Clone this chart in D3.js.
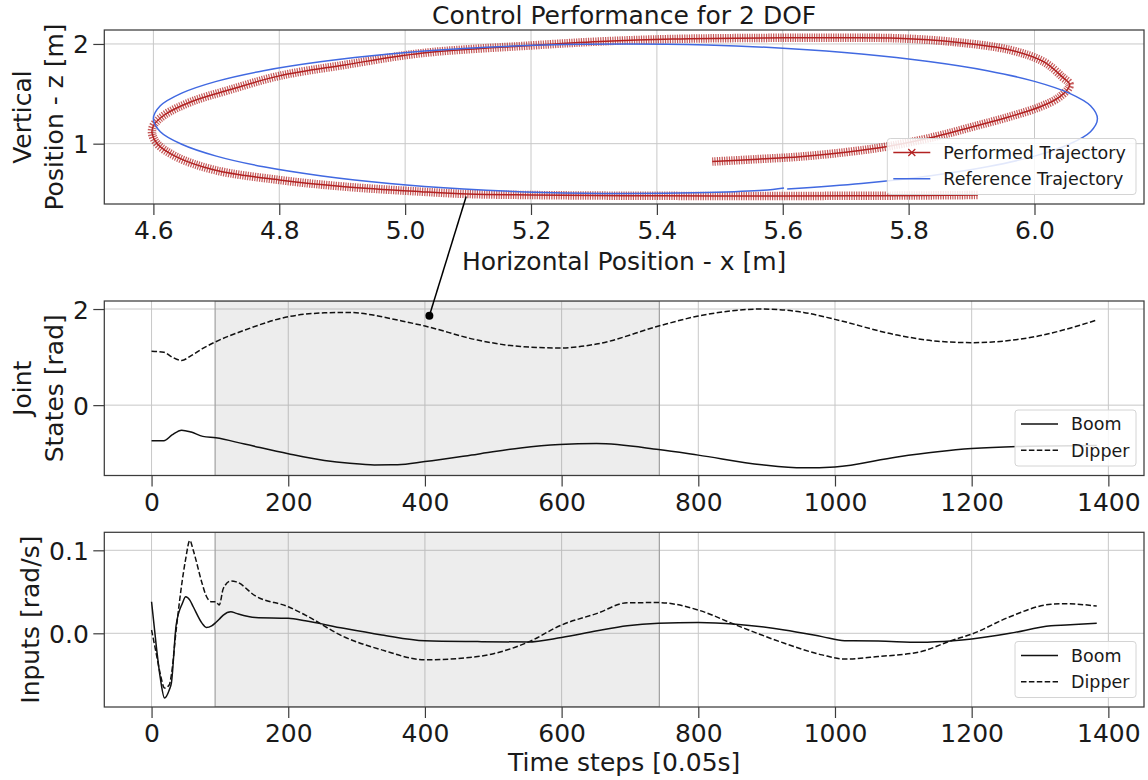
<!DOCTYPE html>
<html>
<head>
<meta charset="utf-8">
<script src="https://cdn.jsdelivr.net/npm/d3@7"></script>
<style>
  body { margin: 0; background: #fff; }
  text { font-family: "DejaVu Sans", sans-serif; fill: #1a1a1a; }
</style>
</head>
<body>
<svg id="chart" width="1148" height="780"></svg>
<script>
// ---------------- data ----------------
// Reference trajectory in the x-z plane [m]
const refX = [5.607, 5.725, 5.832, 5.925, 6.000, 6.055, 6.089, 6.100, 6.089, 6.055, 6.000, 5.925, 5.832, 5.725, 5.607, 5.480, 5.350, 5.220, 5.093, 4.975, 4.868, 4.775, 4.700, 4.645, 4.611, 4.600, 4.611, 4.645, 4.700, 4.775, 4.868, 4.975, 5.093, 5.220, 5.350, 5.480, 5.569, 5.602];
const refZ = [0.545, 0.600, 0.676, 0.768, 0.875, 0.994, 1.120, 1.250, 1.380, 1.507, 1.625, 1.732, 1.824, 1.900, 1.955, 1.989, 2.000, 1.989, 1.955, 1.900, 1.824, 1.732, 1.625, 1.507, 1.380, 1.250, 1.120, 0.994, 0.875, 0.768, 0.676, 0.600, 0.545, 0.511, 0.500, 0.511, 0.533, 0.556];

// Performed trajectory in the x-z plane [m]
const perfX = [5.488, 5.560, 5.627, 5.700, 5.764, 5.842, 5.902, 5.960, 6.009, 6.040, 6.056, 6.044, 6.015, 5.961, 5.872, 5.782, 5.700, 5.604, 5.425, 5.310, 5.200, 5.025, 4.904, 4.800, 4.721, 4.660, 4.618, 4.600, 4.598, 4.606, 4.636, 4.697, 4.800, 4.904, 5.025, 5.100, 5.200, 5.350, 5.500, 5.604, 5.750, 5.910];
const perfZ = [0.820, 0.845, 0.870, 0.915, 0.970, 1.070, 1.170, 1.270, 1.370, 1.470, 1.590, 1.670, 1.820, 1.940, 2.020, 2.057, 2.062, 2.062, 2.050, 2.025, 1.985, 1.907, 1.790, 1.680, 1.540, 1.420, 1.290, 1.180, 1.100, 1.000, 0.870, 0.736, 0.636, 0.569, 0.519, 0.495, 0.485, 0.478, 0.476, 0.476, 0.478, 0.485];

// Joint states [rad] over time steps
const stateSteps  = [0, 18, 30, 44, 58, 75, 94, 136, 200, 253, 290, 326, 360, 400, 477, 540, 597, 651, 742, 800, 893, 954, 1000, 1091, 1150, 1200, 1283, 1383];
const boomState   = [-0.74, -0.74, -0.62, -0.52, -0.56, -0.65, -0.68, -0.81, -1.01, -1.15, -1.21, -1.243, -1.24, -1.174, -1.02, -0.89, -0.82, -0.80, -0.924, -1.04, -1.24, -1.305, -1.285, -1.077, -0.97, -0.903, -0.855, -0.84];
const dipperState = [1.12, 1.10, 1.00, 0.93, 1.03, 1.18, 1.32, 1.56, 1.84, 1.92, 1.93, 1.87, 1.77, 1.646, 1.354, 1.22, 1.19, 1.27, 1.646, 1.854, 2.00, 1.93, 1.785, 1.458, 1.33, 1.30, 1.40, 1.77];

// Control inputs [rad/s] over time steps
const inputSteps  = [0, 7, 13, 19, 26, 29, 36, 45, 50, 56, 61, 74, 80, 88, 94, 99, 105, 116, 124, 152, 200, 225, 281, 337, 400, 477, 550, 600, 652, 696, 742, 800, 855, 926, 981, 1014, 1063, 1124, 1173, 1200, 1256, 1316, 1338, 1383];
const boomInput   = [0.038, -0.016, -0.055, -0.078, -0.068, -0.060, 0.010, 0.036, 0.044, 0.040, 0.032, 0.012, 0.007, 0.009, 0.013, 0.017, 0.022, 0.026, 0.024, 0.019, 0.018, 0.015, 0.006, -0.002, -0.009, -0.010, -0.0105, -0.005, 0.003, 0.009, 0.012, 0.013, 0.011, 0.004, -0.004, -0.009, -0.0093, -0.0108, -0.009, -0.0068, 0.000, 0.009, 0.010, 0.012];
const dipperInput = [0.004, -0.025, -0.050, -0.066, -0.062, -0.050, 0.004, 0.064, 0.090, 0.112, 0.100, 0.060, 0.045, 0.038, 0.038, 0.034, 0.054, 0.063, 0.062, 0.045, 0.032, 0.022, -0.004, -0.020, -0.032, -0.028, -0.011, 0.010, 0.024, 0.0368, 0.037, 0.028, 0.010, -0.012, -0.026, -0.031, -0.028, -0.0224, -0.008, -0.001, 0.020, 0.035, 0.0356, 0.0328];

// Highlighted time window and the linked sample
const spanSteps = [93, 743];
const linkPos = [5.097, 0.47];    // (x, z) on the trajectory
const linkState = [406.5, 1.86];  // (step, rad) in the joint-state panel

// Tick values
const posXTicks = [4.6, 4.8, 5.0, 5.2, 5.4, 5.6, 5.8, 6.0];
const posZTicks = [1, 2];
const stepTicks = [0, 200, 400, 600, 800, 1000, 1200, 1400];
const stateTicks = [0, 2];
const inputTicks = [0.0, 0.1];

// ---------------- layout ----------------
const svg = d3.select("#chart");
const L = 104.3, R = 1144;
const P1 = { top: 30, bottom: 204 };
const P2 = { top: 301, bottom: 475.5 };
const P3 = { top: 532.3, bottom: 707 };
const FS = 25;
const gridColor = "#c8c8c8";
const spineColor = "#3c3c3c";
const lineColor = "#111";
const red = "#b22222";
const blue = "#4169e1";

svg.append("rect").attr("width", 1148).attr("height", 780).attr("fill", "#fff");

const xPos = d3.scaleLinear().domain([4.522, 6.174]).range([L, R]);
const zPos = d3.scaleLinear().domain([0.395, 2.14]).range([P1.bottom, P1.top]);
const xStep2 = d3.scaleLinear().domain([-69.15, 1452.15]).range([L, R]);
const yState = d3.scaleLinear().domain([-1.464, 2.167]).range([P2.bottom, P2.top]);
const xStep3 = d3.scaleLinear().domain([-69.15, 1452.15]).range([L, R]);
const yInput = d3.scaleLinear().domain([-0.0888, 0.1217]).range([P3.bottom, P3.top]);

function panel(P, xs, ys, xt, yt, yfmt, xfmt, id) {
  const g = svg.append("g");
  svg.append("clipPath").attr("id", id)
    .append("rect").attr("x", L).attr("y", P.top).attr("width", R - L).attr("height", P.bottom - P.top);
  const grid = g.append("g");
  grid.selectAll(".gx").data(xt).join("line")
    .attr("x1", d => xs(d)).attr("x2", d => xs(d))
    .attr("y1", P.top).attr("y2", P.bottom)
    .attr("stroke", gridColor).attr("stroke-width", 1);
  grid.selectAll(".gy").data(yt).join("line")
    .attr("x1", L).attr("x2", R)
    .attr("y1", d => ys(d)).attr("y2", d => ys(d))
    .attr("stroke", gridColor).attr("stroke-width", 1);

  const ax = g.append("g").attr("transform", `translate(0,${P.bottom})`)
    .call(d3.axisBottom(xs).tickValues(xt).tickFormat(xfmt).tickSize(11).tickPadding(6.3));
  const ay = g.append("g").attr("transform", `translate(${L},0)`)
    .call(d3.axisLeft(ys).tickValues(yt).tickFormat(yfmt).tickSize(11).tickPadding(4.5));
  [ax, ay].forEach(a => {
    a.select(".domain").remove();
    a.selectAll("line").attr("stroke", spineColor).attr("stroke-width", 1.2);
    a.selectAll("text").attr("font-size", FS).attr("fill", "#1a1a1a")
      .style("font-family", '"DejaVu Sans", sans-serif');
  });
  ay.selectAll("text").attr("dy", "0.36em");
  const data = svg.append("g").attr("clip-path", `url(#${id})`);
  return { g, data };
}

function frame(P) {
  svg.append("rect").attr("x", L).attr("y", P.top).attr("width", R - L).attr("height", P.bottom - P.top)
    .attr("fill", "none").attr("stroke", spineColor).attr("stroke-width", 1.25);
}

// ---------------- panel 1: x-z trajectory ----------------
const p1 = panel(P1, xPos, zPos, posXTicks, posZTicks, d3.format("d"), d3.format(".1f"), "clip1");
const trajLine = d3.line().x(d => xPos(d[0])).y(d => zPos(d[1])).curve(d3.curveCatmullRom.alpha(0.5));
const perf = perfX.map((x, i) => [x, perfZ[i]]);
const ref = refX.map((x, i) => [x, refZ[i]]);

// dense cross markers along the performed path
p1.data.append("path").attr("d", trajLine(perf)).attr("fill", "none")
  .attr("stroke", red).attr("stroke-opacity", 0.75).attr("stroke-width", 8.5)
  .attr("stroke-dasharray", "1.2 1.2");
p1.data.append("path").attr("d", trajLine(perf)).attr("fill", "none")
  .attr("stroke", red).attr("stroke-width", 1.5);
p1.data.append("path").attr("d", trajLine(ref)).attr("fill", "none")
  .attr("stroke", blue).attr("stroke-width", 1.5);
frame(P1);

// ---------------- panel 2: joint states ----------------
const p2 = panel(P2, xStep2, yState, stepTicks, stateTicks, d3.format("d"), d3.format("d"), "clip2");
p2.data.insert("rect", ":first-child")
  .attr("x", xStep2(spanSteps[0])).attr("y", P2.top)
  .attr("width", xStep2(spanSteps[1]) - xStep2(spanSteps[0])).attr("height", P2.bottom - P2.top)
  .attr("fill", "#808080").attr("fill-opacity", 0.14)
  .attr("stroke", "#a0a0a0").attr("stroke-width", 1.2);
const sLine = d3.line().x(d => xStep2(d[0])).y(d => yState(d[1])).curve(d3.curveMonotoneX);
p2.data.append("path").attr("d", sLine(stateSteps.map((t, i) => [t, boomState[i]])))
  .attr("fill", "none").attr("stroke", lineColor).attr("stroke-width", 1.5);
p2.data.append("path").attr("d", sLine(stateSteps.map((t, i) => [t, dipperState[i]])))
  .attr("fill", "none").attr("stroke", lineColor).attr("stroke-width", 1.5)
  .attr("stroke-dasharray", "5.5 2.4");
frame(P2);

// ---------------- panel 3: inputs ----------------
const p3 = panel(P3, xStep3, yInput, stepTicks, inputTicks, d3.format(".1f"), d3.format("d"), "clip3");
p3.data.insert("rect", ":first-child")
  .attr("x", xStep3(spanSteps[0])).attr("y", P3.top)
  .attr("width", xStep3(spanSteps[1]) - xStep3(spanSteps[0])).attr("height", P3.bottom - P3.top)
  .attr("fill", "#808080").attr("fill-opacity", 0.14)
  .attr("stroke", "#a0a0a0").attr("stroke-width", 1.2);
const iLine = d3.line().x(d => xStep3(d[0])).y(d => yInput(d[1])).curve(d3.curveMonotoneX);
p3.data.append("path").attr("d", iLine(inputSteps.map((t, i) => [t, boomInput[i]])))
  .attr("fill", "none").attr("stroke", lineColor).attr("stroke-width", 1.5);
p3.data.append("path").attr("d", iLine(inputSteps.map((t, i) => [t, dipperInput[i]])))
  .attr("fill", "none").attr("stroke", lineColor).attr("stroke-width", 1.5)
  .attr("stroke-dasharray", "5.5 2.4");
frame(P3);

// ---------------- legends ----------------
function legend(P, w, items) {
  const h = 56, x0 = R - 8 - w, y0 = P.bottom - 9.5 - h;
  const g = svg.append("g").attr("transform", `translate(${x0},${y0})`);
  g.append("rect").attr("width", w).attr("height", h).attr("rx", 3)
    .attr("fill", "#fff").attr("fill-opacity", 0.85).attr("stroke", "#d4d4d4").attr("stroke-width", 1);
  items.forEach((it, i) => {
    const cy = 14 + i * 26.3;
    g.append("line").attr("x1", 6).attr("x2", 43).attr("y1", cy).attr("y2", cy)
      .attr("stroke", it.color).attr("stroke-width", 1.5)
      .attr("stroke-dasharray", it.dash || null);
    if (it.marker) {
      g.append("path").attr("d", `M${24.5 - 3.5},${cy - 3.5}L${24.5 + 3.5},${cy + 3.5}M${24.5 - 3.5},${cy + 3.5}L${24.5 + 3.5},${cy - 3.5}`)
        .attr("stroke", it.color).attr("stroke-width", 1.2);
    }
    g.append("text").attr("x", 56).attr("y", cy).attr("dy", "0.36em")
      .attr("font-size", 17.5).text(it.label);
  });
}
legend(P1, 248.7, [
  { label: "Performed Trajectory", color: red, marker: true },
  { label: "Reference Trajectory", color: blue }
]);
legend(P2, 121, [
  { label: "Boom", color: lineColor },
  { label: "Dipper", color: lineColor, dash: "5.5 2.4" }
]);
legend(P3, 121, [
  { label: "Boom", color: lineColor },
  { label: "Dipper", color: lineColor, dash: "5.5 2.4" }
]);

// ---------------- titles and labels ----------------
const cx = (L + R) / 2;
svg.append("text").attr("x", cx).attr("y", 24.3).attr("text-anchor", "middle")
  .attr("font-size", FS).text("Control Performance for 2 DOF");
svg.append("text").attr("x", cx).attr("y", 270).attr("text-anchor", "middle")
  .attr("font-size", FS).text("Horizontal Position - x [m]");
svg.append("text").attr("x", cx).attr("y", 771).attr("text-anchor", "middle")
  .attr("font-size", FS).text("Time steps [0.05s]");

function ylabel(lines, baselines, cy) {
  lines.forEach((s, i) => {
    svg.append("text").attr("transform", `translate(${baselines[i]},${cy}) rotate(-90)`)
      .attr("text-anchor", "middle").attr("font-size", FS).text(s);
  });
}
ylabel(["Vertical", "Position - z [m]"], [30.5, 62.5], (P1.top + P1.bottom) / 2);
ylabel(["Joint", "States [rad]"], [30.5, 62.5], (P2.top + P2.bottom) / 2);
ylabel(["Inputs [rad/s]"], [39], (P3.top + P3.bottom) / 2);

// ---------------- link between trajectory and joint-state panel ----------------
svg.append("line")
  .attr("x1", xPos(linkPos[0])).attr("y1", zPos(linkPos[1]))
  .attr("x2", xStep2(linkState[0])).attr("y2", yState(linkState[1]))
  .attr("stroke", "#000").attr("stroke-width", 1.5);
svg.append("circle")
  .attr("cx", xStep2(linkState[0])).attr("cy", yState(linkState[1])).attr("r", 4)
  .attr("fill", "#000");
</script>
</body>
</html>
